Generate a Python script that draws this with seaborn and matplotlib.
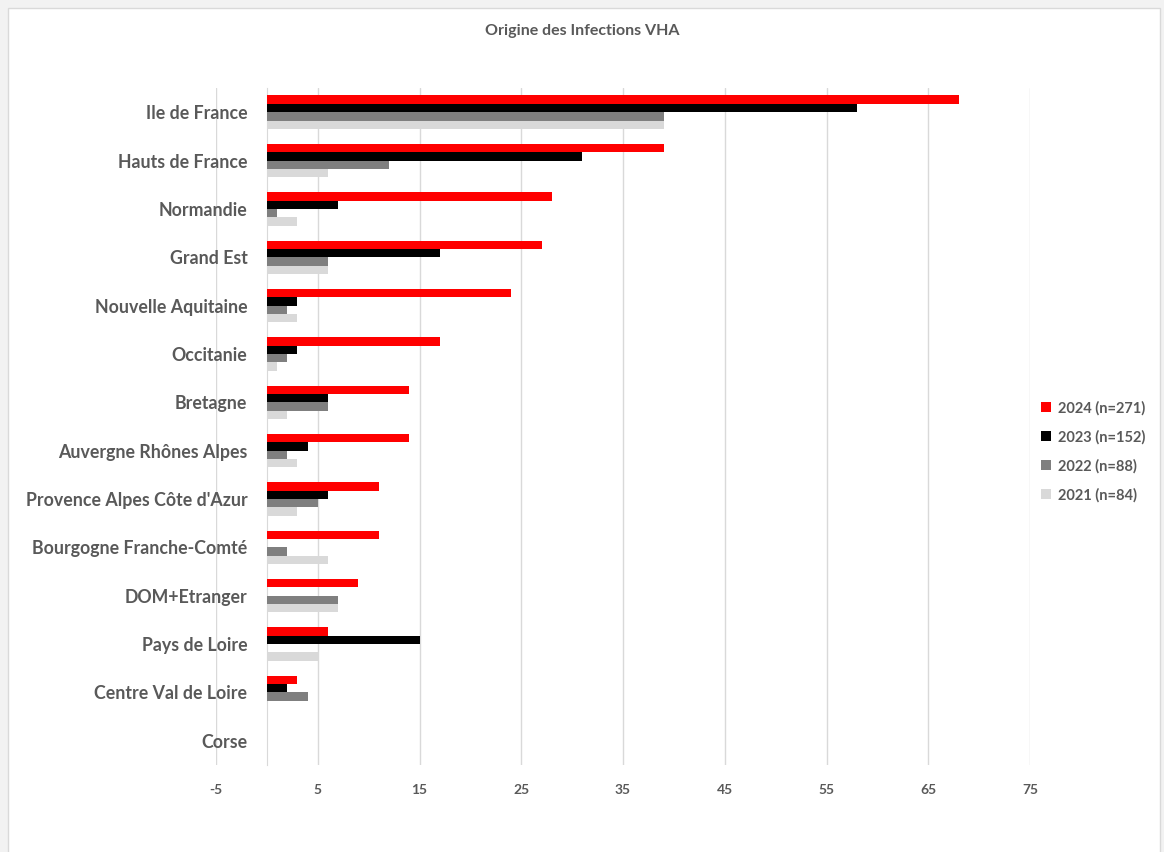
import pandas as pd
import matplotlib.pyplot as plt
import seaborn as sns
from matplotlib.patches import Rectangle

regions = ["Ile de France", "Hauts de France", "Normandie", "Grand Est",
           "Nouvelle Aquitaine", "Occitanie", "Bretagne", "Auvergne Rhônes Alpes",
           "Provence Alpes Côte d'Azur", "Bourgogne Franche-Comté", "DOM+Etranger",
           "Pays de Loire", "Centre Val de Loire", "Corse"]
series = ["2024 (n=271)", "2023 (n=152)", "2022 (n=88)", "2021 (n=84)"]
v2024 = [68, 39, 28, 27, 24, 17, 14, 14, 11, 11, 9, 6, 3, 0]
v2023 = [58, 31, 7, 17, 3, 3, 6, 4, 6, 0, 0, 15, 2, 0]
v2022 = [39, 12, 1, 6, 2, 2, 6, 2, 5, 2, 7, 0, 4, 0]
v2021 = [39, 6, 3, 6, 3, 1, 2, 3, 3, 6, 7, 5, 0, 0]
xticks = [-5, 5, 15, 25, 35, 45, 55, 65, 75]

colors = ["#FF0000", "#000000", "#7F7F7F", "#D9D9D9"]
txt = "#595959"

rows = []
for s, vals in zip(series, [v2024, v2023, v2022, v2021]):
    for r, v in zip(regions, vals):
        rows.append({"region": r, "serie": s, "cas": v})
df = pd.DataFrame(rows)

sns.set_style("white")
plt.rcParams["font.family"] = ["Lato", "DejaVu Sans"]
plt.rcParams["axes.unicode_minus"] = False

fig = plt.figure(figsize=(11.64, 8.52), dpi=100)
fig.patches.append(Rectangle((8 / 1164, -0.01), 1152 / 1164, 1 - 8 / 852 + 0.01,
                             transform=fig.transFigure, facecolor="white",
                             edgecolor="#D9D9D9", linewidth=1, zorder=-1))
fig.patch.set_facecolor("#F2F2F2")
ax = fig.add_axes([216 / 1164, 1 - 765 / 852, (1030 - 216) / 1164, (765 - 88) / 852])
ax.set_facecolor("none")

sns.barplot(data=df, x="cas", y="region", hue="serie", order=regions,
            hue_order=series, palette=colors, width=0.69, linewidth=0,
            saturation=1, ax=ax, zorder=3)

ax.set_xlim(-5, 75)
ax.set_xticks(xticks)
ax.grid(axis="x", color="#D9D9D9", linewidth=1, zorder=0)
ax.set_xlabel("")
ax.set_ylabel("")
for sp in ["top", "right", "bottom"]:
    ax.spines[sp].set_visible(False)
ax.spines["left"].set_position(("data", 0))
ax.spines["left"].set_color("#D9D9D9")
ax.spines["left"].set_zorder(2)
ax.tick_params(axis="y", length=0, pad=14, labelsize=12.8, labelcolor=txt)
ax.tick_params(axis="x", length=0, pad=14, labelsize=10, labelcolor=txt)
for lab in ax.get_yticklabels() + ax.get_xticklabels():
    lab.set_fontweight("bold")

leg = ax.legend(loc="center left", bbox_to_anchor=(0.997, 0.463), frameon=False,
                handlelength=0.7, handleheight=0.7, handletextpad=0.5,
                labelspacing=1.0, fontsize=10.5)
for t in leg.get_texts():
    t.set_color(txt)
    t.set_fontweight("bold")

fig.text(0.5, 1 - 31 / 852, "Origine des Infections VHA", ha="center", va="center",
         fontsize=11.5, fontweight="bold", color=txt)

fig.savefig("out.png", dpi=100)
